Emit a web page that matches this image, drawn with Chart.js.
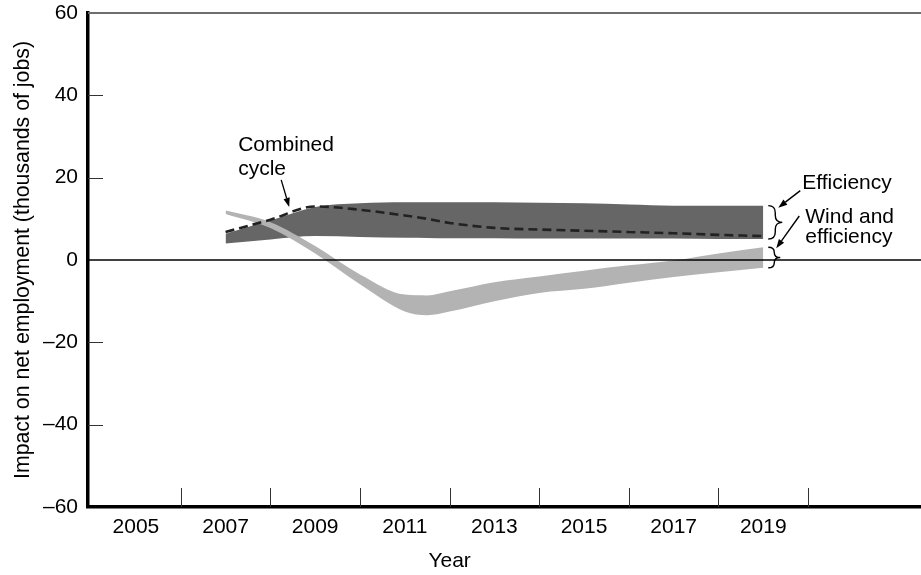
<!DOCTYPE html>
<html>
<head>
<meta charset="utf-8">
<script src="https://cdn.jsdelivr.net/npm/chart.js@4.4.1/dist/chart.umd.min.js"></script>
<style>
   body { margin: 0; background: #fff; }
   .chart-wrap { position: relative; width: 921px; height: 575px; }
</style>
</head>
<body>
<div class="chart-wrap"><canvas id="jobsChart"></canvas></div>
<script>
const years = [2007, 2008, 2009, 2010, 2011, 2011.5, 2012, 2013, 2014, 2015, 2016, 2017, 2018, 2019];
const efficiencyHigh = [6.4, 9.6, 12.9, 13.8, 14.0, 14.0, 14.0, 14.0, 13.9, 13.8, 13.5, 13.2, 13.2, 13.2];
const efficiencyLow = [4.0, 5.0, 5.8, 5.6, 5.4, 5.35, 5.3, 5.3, 5.2, 5.2, 5.2, 5.2, 5.1, 5.1];
const combinedCycle = [6.8, 9.8, 13.0, 12.2, 10.8, 10.0, 9.0, 7.8, 7.4, 7.1, 6.8, 6.5, 6.1, 5.8];
const windHigh = [12.0, 9.2, 3.4, -3.5, -8.4, -8.6, -7.6, -5.4, -4.0, -2.6, -1.3, -0.1, 1.6, 3.1];
const windLow = [11.2, 7.8, 1.6, -5.9, -12.5, -13.4, -12.5, -10.0, -8.0, -7.0, -5.5, -4.1, -3.0, -1.9];

const yearLabels = [2005, 2007, 2009, 2011, 2013, 2015, 2017, 2019];
const yearMarks = [2006, 2008, 2010, 2012, 2014, 2016, 2018, 2020];
const valueMarks = [-40, -20, 20, 40];

const FONT = '"Liberation Sans", Arial, Helvetica, sans-serif';
Chart.defaults.font.family = FONT;
Chart.defaults.color = '#000';

const toPoints = (vals) => vals.map((v, i) => ({ x: years[i], y: v }));

function drawLine(ctx, x1, y1, x2, y2) {
   ctx.beginPath();
   ctx.moveTo(x1, y1);
   ctx.lineTo(x2, y2);
   ctx.stroke();
}

function drawArrow(ctx, x1, y1, x2, y2) {
   const a = Math.atan2(y2 - y1, x2 - x1);
   const len = 9, half = 3.2;
   const bx = x2 - len * Math.cos(a), by = y2 - len * Math.sin(a);
   drawLine(ctx, x1, y1, bx, by);
   ctx.beginPath();
   ctx.moveTo(x2, y2);
   ctx.lineTo(bx + half * Math.sin(a), by - half * Math.cos(a));
   ctx.lineTo(bx - half * Math.sin(a), by + half * Math.cos(a));
   ctx.closePath();
   ctx.fill();
}

// curly brace "}" between y1 and y2
function drawBrace(ctx, x, y1, y2, w) {
   const m = (y1 + y2) / 2;
   const r = Math.min(w / 2, (y2 - y1) / 4);
   const c = x + w / 2;
   ctx.beginPath();
   ctx.moveTo(x, y1);
   ctx.quadraticCurveTo(c, y1, c, y1 + r);
   ctx.lineTo(c, m - r);
   ctx.quadraticCurveTo(c, m, x + w, m);
   ctx.quadraticCurveTo(c, m, c, m + r);
   ctx.lineTo(c, y2 - r);
   ctx.quadraticCurveTo(c, y2, x, y2);
   ctx.stroke();
}

const decorations = {
   id: 'decorations',
   afterDatasetsDraw(chart) {
      const { ctx, chartArea: area, scales: { x, y } } = chart;
      ctx.save();
      ctx.strokeStyle = '#000';
      ctx.fillStyle = '#000';

      // zero line on top of the bands
      ctx.lineWidth = 1.5;
      const y0 = y.getPixelForValue(0);
      drawLine(ctx, area.left, y0, area.right, y0);

      // top frame line
      ctx.strokeStyle = '#6e6e6e';
      ctx.lineWidth = 2;
      drawLine(ctx, area.left, area.top, area.right, area.top);

      // inward tick marks
      ctx.strokeStyle = '#333';
      ctx.lineWidth = 1;
      valueMarks.forEach(v => {
         const py = Math.round(y.getPixelForValue(v)) + 0.5;
         drawLine(ctx, area.left, py, area.left + 15, py);
      });
      yearMarks.forEach(v => {
         const px = Math.round(x.getPixelForValue(v)) + 0.5;
         drawLine(ctx, px, area.bottom, px, area.bottom - 19);
      });

      ctx.strokeStyle = '#000';
      ctx.font = '21px ' + FONT;
      ctx.textBaseline = 'alphabetic';
      ctx.textAlign = 'left';

      // combined cycle label
      const cx = x.getPixelForValue(2008.42), cy = y.getPixelForValue(12.9);
      ctx.lineWidth = 1.3;
      drawArrow(ctx, cx - 8, cy - 27, cx, cy);
      ctx.fillText('Combined', cx - 51, cy - 56);
      ctx.fillText('cycle', cx - 51, cy - 32);

      // braces and labels at the right end
      const last = years.length - 1;
      const ex = x.getPixelForValue(years[last]);
      const effTop = y.getPixelForValue(efficiencyHigh[last]);
      const effBot = y.getPixelForValue(efficiencyLow[last]);
      const windTop = y.getPixelForValue(windHigh[last]);
      const windBot = y.getPixelForValue(windLow[last]);
      ctx.lineWidth = 1.4;
      drawBrace(ctx, ex + 5, effTop, effBot, 14);
      drawBrace(ctx, ex + 5, windTop, windBot, 12);
      drawArrow(ctx, ex + 37, effTop - 15, ex + 15, effTop + 2);
      drawArrow(ctx, ex + 36, effBot - 23, ex + 13, windTop + 1);
      ctx.fillText('Efficiency', ex + 39, effTop - 17);
      ctx.fillText('Wind and', ex + 42, effTop + 17.5);
      ctx.fillText('efficiency', ex + 42, effTop + 37);

      // x axis title
      ctx.textAlign = 'center';
      ctx.fillText('Year', x.getPixelForValue(2012), 567);
      ctx.restore();
   }
};

const canvas = document.getElementById('jobsChart');
new Chart(canvas, {
   type: 'line',
   data: {
      datasets: [
         {
            label: 'Efficiency high',
            data: toPoints(efficiencyHigh),
            backgroundColor: '#666666',
            fill: '+1',
            order: 3
         },
         {
            label: 'Efficiency low',
            data: toPoints(efficiencyLow),
            fill: false,
            order: 3
         },
         {
            label: 'Wind and efficiency high',
            data: toPoints(windHigh),
            backgroundColor: '#b3b3b3',
            fill: '+1',
            order: 2
         },
         {
            label: 'Wind and efficiency low',
            data: toPoints(windLow),
            fill: false,
            order: 2
         },
         {
            label: 'Combined cycle',
            data: toPoints(combinedCycle),
            borderColor: '#222',
            borderWidth: 2.6,
            borderDash: [9, 5],
            fill: false,
            order: 1
         }
      ]
   },
   options: {
      responsive: true,
      maintainAspectRatio: false,
      animation: false,
      layout: {
         autoPadding: false,
         padding: { top: 13, right: 0, bottom: 0, left: 0 }
      },
      elements: {
         point: { radius: 0 },
         line: { borderWidth: 0, cubicInterpolationMode: 'monotone' }
      },
      scales: {
         x: {
            type: 'linear',
            min: 2003.93,
            max: 2022.52,
            afterFit: (s) => {
               s.height = 68;
               s.paddingLeft = 0;
               s.paddingRight = 0;
            },
            grid: { display: false, drawTicks: false },
            border: { display: true, color: '#000', width: 3.5 },
            ticks: {
               stepSize: 1,
               autoSkip: false,
               maxRotation: 0,
               padding: 8,
               font: { size: 21 },
               callback: (v) => yearLabels.includes(v) ? String(v) : ''
            }
         },
         y: {
            min: -60,
            max: 60,
            afterFit: (s) => {
               s.width = 88;
               s.paddingTop = 0;
               s.paddingBottom = 0;
            },
            grid: { display: false, drawTicks: false },
            border: { display: true, color: '#000', width: 3.5 },
            ticks: {
               stepSize: 20,
               padding: 10,
               font: { size: 21 },
               callback: (v) => v < 0 ? '\u2013' + Math.abs(v) : String(v)
            },
            title: {
               display: true,
               text: 'Impact on net employment (thousands of jobs)',
               font: { size: 21.3 },
               padding: { top: 10, bottom: 0 }
            }
         }
      },
      plugins: {
         legend: { display: false },
         tooltip: { enabled: false }
      }
   },
   plugins: [decorations]
});
</script>
</body>
</html>
